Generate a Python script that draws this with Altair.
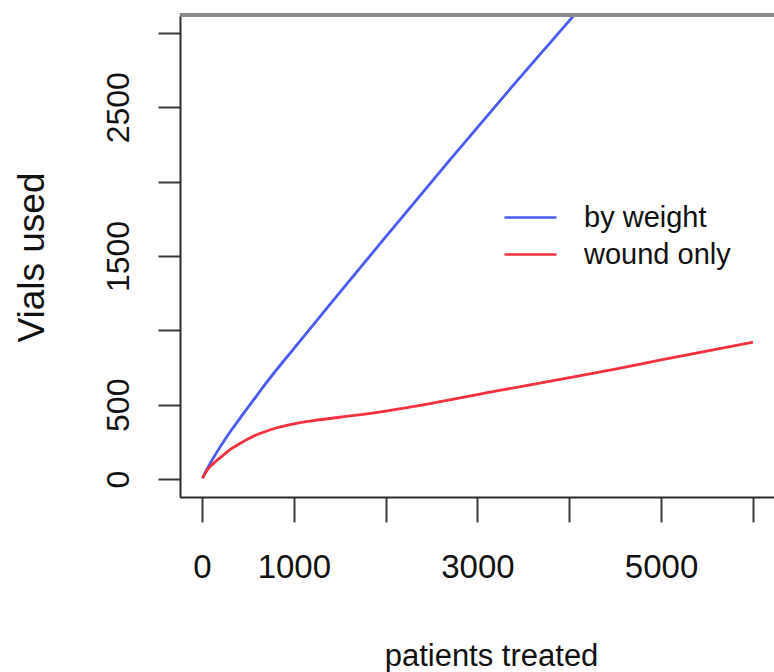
import altair as alt
import pandas as pd

# ---- data ----
weight_patients = [5, 50, 100, 160, 232, 320, 450, 600, 722, 1000, 1400, 2000, 2702, 3400, 4056, 4600]
weight_vials = [6, 62, 118, 180, 250, 330, 440, 565, 665, 878, 1180, 1628, 2148, 2655, 3121, 3505]

wound_patients = [5, 50, 100, 160, 232, 320, 414, 500, 596, 700, 800, 959, 1200, 1500, 2000,
                  2500, 3210, 3900, 4500, 5000, 6000]
wound_vials = [6, 55, 92, 125, 162, 205, 240, 270, 298, 322, 342, 366, 392, 416, 458,
               510, 593, 671, 740, 802, 921]

series_names = ["by weight", "wound only"]
series_colors = ["#4a5af5", "#f5303f"]

x_ticks = [0, 1000, 2000, 3000, 4000, 5000, 6000]
x_labelled = [0, 1000, 3000, 5000]
y_ticks = [0, 500, 1000, 1500, 2000, 2500, 3000]
y_labelled = [0, 500, 1500, 2500]

df = pd.concat([
    pd.DataFrame({"patients": weight_patients, "vials": weight_vials, "series": series_names[0]}),
    pd.DataFrame({"patients": wound_patients, "vials": wound_vials, "series": series_names[1]}),
])

FONT = "Liberation Sans"

def label_expr(vals):
    cond = " || ".join(f"datum.value == {v}" for v in vals)
    return f"({cond}) ? datum.label : ''"

lines = alt.Chart(df).mark_line(strokeWidth=2.8, clip=True, interpolate="monotone").encode(
    x=alt.X("patients:Q",
            scale=alt.Scale(domain=[-240, 6230], nice=False, zero=False),
            axis=alt.Axis(values=x_ticks, format="d", labelExpr=label_expr(x_labelled),
                          grid=False, domain=True, domainColor="#2a2a2a", domainWidth=2,
                          tickColor="#3a3a3a", tickWidth=2, tickSize=25,
                          labelFont=FONT, labelFontSize=33, labelColor="#111111",
                          labelBaseline="alphabetic", labelPadding=55,
                          labelFlush=False, labelOverlap=False,
                          title="patients treated", titleFont=FONT, titleFontSize=31,
                          titleFontWeight="normal", titleColor="#111111",
                          titleX=311, titleY=168, titleAlign="center",
                          titleBaseline="alphabetic")),
    y=alt.Y("vials:Q",
            scale=alt.Scale(domain=[-120, 3120], nice=False, zero=False),
            axis=alt.Axis(values=y_ticks, format="d", labelExpr=label_expr(y_labelled),
                          grid=False, domain=True, domainColor="#2a2a2a", domainWidth=2,
                          tickColor="#3a3a3a", tickWidth=2, tickSize=22,
                          labelFont=FONT, labelFontSize=32, labelColor="#111111",
                          labelAngle=270, labelAlign="center", labelBaseline="alphabetic",
                          labelPadding=30, labelFlush=False, labelOverlap=False,
                          title="Vials used", titleFont=FONT, titleFontSize=37,
                          titleFontWeight="normal", titleColor="#111111",
                          titleAngle=270, titleX=-137, titleY=242,
                          titleAlign="center", titleBaseline="alphabetic")),
    color=alt.Color("series:N",
                    scale=alt.Scale(domain=series_names, range=series_colors),
                    legend=alt.Legend(title=None, orient="none", legendX=323, legendY=184,
                                      symbolType="stroke", symbolSize=2704,
                                      symbolStrokeWidth=2.5, clipHeight=37, rowPadding=0,
                                      labelFont=FONT, labelFontSize=29, labelColor="#111111",
                                      labelOffset=26, padding=0)),
)

top_border = alt.Chart(pd.DataFrame({"k": [0]})).mark_rule(color="#8a8a8a", strokeWidth=4).encode(
    x=alt.value(0), x2=alt.value(594), y=alt.value(0)
)

chart = alt.layer(lines, top_border).properties(
    width=594, height=482,
    autosize=alt.AutoSizeParams(type="none"),
    padding={"left": 180, "top": 15, "right": 0, "bottom": 175},
).configure_view(stroke=None).configure(background="white")

chart.save("out.html", embed_options={"renderer": "svg", "actions": False})
